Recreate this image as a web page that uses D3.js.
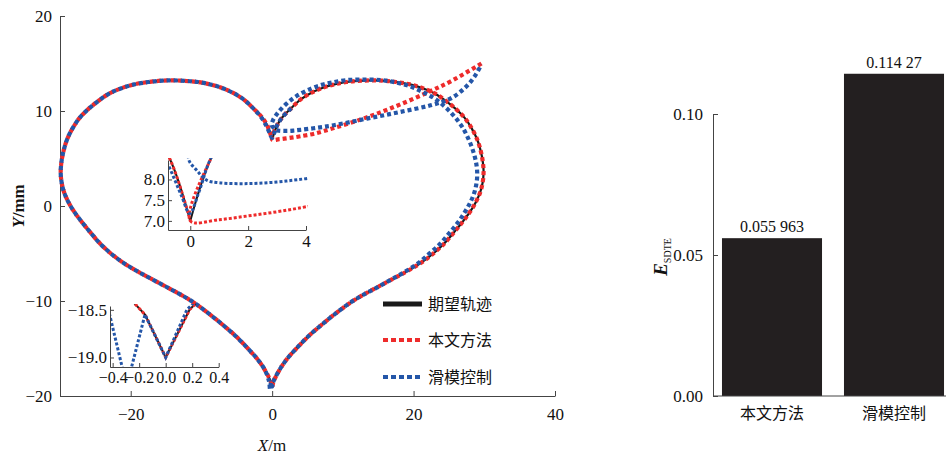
<!DOCTYPE html>
<html>
<head>
<meta charset="utf-8">
<script src="https://cdn.jsdelivr.net/npm/d3@7"></script>
<style>
  body { margin: 0; background: #fff; }
  text { font-family: "Liberation Serif", "Times New Roman", serif; fill: #111; }
</style>
</head>
<body>
<script>
// desired heart trajectory, clockwise from the top cusp
const desiredPath = [
    [0, 7], [0.69, 8.47], [1.5, 9.4], [2.7, 10.3], [4, 11.2], [5.5, 11.9], [7, 12.4], [8.5, 12.75],
    [10.5, 13.05], [13, 13.2], [15.5, 13.2], [17.5, 13.05], [19.5, 12.8], [21.3, 12.4], [23, 11.85],
    [24.5, 11.1], [26, 10.2], [27.2, 9.3], [28.2, 8.2], [29.0, 7.0], [29.5, 5.8], [29.8, 4.6],
    [29.9, 3.5], [29.75, 2.4], [29.4, 1.4], [28.8, 0.4], [28.0, -0.6], [27.0, -1.6], [25.8, -2.7],
    [24.4, -3.9], [22.8, -5.0], [21.0, -6.0], [19.0, -6.9], [17.0, -7.7], [15.0, -8.5], [13.0, -9.3],
    [11.0, -10.2], [9.0, -11.3], [7.0, -12.5], [5.0, -13.8], [3.3, -15.1], [2.0, -16.2], [1.0, -17.3],
    [0.18, -18.5], [0, -19],
    [-0.156, -18.55], [-1.0, -17.3], [-2.0, -16.2], [-3.3, -15.1], [-5.0, -13.8], [-7.0, -12.5],
    [-9.0, -11.3], [-11.0, -10.2], [-13.0, -9.3], [-15.0, -8.5], [-17.0, -7.7], [-19.0, -6.9],
    [-21.0, -6.0], [-22.8, -5.0], [-24.4, -3.9], [-25.8, -2.7], [-27.0, -1.6], [-28.0, -0.6],
    [-28.8, 0.4], [-29.4, 1.4], [-29.75, 2.4], [-29.9, 3.5], [-29.8, 4.6], [-29.5, 5.8], [-29.0, 7.0],
    [-28.2, 8.2], [-27.2, 9.3], [-26, 10.2], [-24.5, 11.1], [-23, 11.85], [-21.3, 12.4], [-19.5, 12.8],
    [-17.5, 13.05], [-15.5, 13.2], [-13, 13.2], [-10.5, 13.05], [-8.5, 12.75], [-7, 12.4], [-5.5, 11.9],
    [-4, 11.2], [-2.7, 10.3], [-1.5, 9.4], [-0.69, 8.47], [0, 7]
];

// 本文方法: approach from the start point, then the heart
const proposedApproach = [
    [29.6, 15.0], [25.2, 13.1], [22.4, 12.1], [19.1, 11.0], [15.8, 10.0], [12.5, 9.1], [8.7, 8.2],
    [6, 7.62], [4, 7.34], [3, 7.22], [2, 7.12], [1, 7.03]
];
const proposedPath = proposedApproach.concat(desiredPath);

// 滑模控制
const smcPath = [
    [29.6, 14.9], [28.6, 13.6], [27.2, 12.4], [25.2, 11.3], [22.4, 10.6], [18.1, 9.9], [13.4, 9.2],
    [8.7, 8.5], [6, 8.2], [4, 8.02], [3, 7.94], [2, 7.9], [1, 7.92], [0.58, 7.98], [0.25, 8.2],
    [-0.06, 8.5], [0.1, 9.0], [0.8, 9.8], [2.0, 10.75], [3.5, 11.6], [5.5, 12.35], [7, 12.75],
    [8.5, 13.0], [10.5, 13.25], [13, 13.3], [15.5, 13.25], [17.5, 13.0], [19.5, 12.6], [21.3, 12.0],
    [23, 11.3], [24.5, 10.4], [25.8, 9.4], [26.9, 8.3], [27.8, 7.0], [28.5, 5.6], [28.9, 4.3],
    [29.0, 3.2], [28.85, 2.2], [28.5, 1.2], [27.9, 0.2], [27.2, -0.7], [26.2, -1.8], [25.0, -2.9],
    [23.6, -4.1], [22.1, -5.1], [20.5, -6.1], [18.6, -7.0], [16.7, -7.8], [14.8, -8.6], [13.0, -9.3],
    [11.0, -10.2], [9.0, -11.3], [7.0, -12.5], [5.0, -13.8], [3.3, -15.1], [2.0, -16.2], [1.0, -17.3],
    [0.16, -18.5], [0, -19.0], [-0.156, -18.55], [-0.294, -19.3], [-0.44, -18.45], [-1.0, -17.3],
    [-2.0, -16.2], [-3.3, -15.1], [-5.0, -13.8], [-7.0, -12.5], [-9.0, -11.3], [-11.0, -10.2],
    [-13.0, -9.3], [-15.0, -8.5], [-17.0, -7.7], [-19.0, -6.9], [-21.0, -6.0], [-22.8, -5.0],
    [-24.4, -3.9], [-25.8, -2.7], [-27.0, -1.6], [-28.0, -0.6], [-28.8, 0.4], [-29.4, 1.4],
    [-29.75, 2.4], [-29.9, 3.5], [-29.8, 4.6], [-29.5, 5.8], [-29.0, 7.0], [-28.2, 8.2], [-27.2, 9.3],
    [-26, 10.2], [-24.5, 11.1], [-23, 11.85], [-21.3, 12.4], [-19.5, 12.8], [-17.5, 13.05], [-15.5, 13.2],
    [-13, 13.2], [-10.5, 13.05], [-8.5, 12.75], [-7, 12.4], [-5.5, 11.9], [-4, 11.2], [-2.7, 10.3],
    [-1.5, 9.3], [-0.79, 8.39], [-0.3, 7.6], [-0.02, 7.18], [0.3, 7.7], [0.7, 8.5], [1.5, 9.4], [2.7, 10.3]
];

const seriesNames = ["期望轨迹", "本文方法", "滑模控制"];
const mainXTicks = [-20, 0, 20, 40];
const mainYTicks = [-20, -10, 0, 10, 20];
const topInsetXTicks = [0, 2, 4];
const topInsetYTicks = [7.0, 7.5, 8.0];
const botInsetXTicks = [-0.4, -0.2, 0.0, 0.2, 0.4];
const botInsetYTicks = [-19.0, -18.5];

// bar chart
const categories = ["本文方法", "滑模控制"];
const esdteValues = [0.055963, 0.11427];
const esdteLabels = ["0.055 963", "0.114 27"];
const barYTicks = [0, 0.05, 0.10];

const RED = "#ee2b2b", BLUE = "#2456a8", BLACK = "#1a1a1a", AXIS = "#444";

const svg = d3.select("body").append("svg")
    .attr("width", 951)
    .attr("height", 454);

function styleAxis(g, size) {
    g.select(".domain").attr("stroke", AXIS).attr("stroke-width", 1);
    g.selectAll(".tick line").attr("stroke", AXIS);
    g.selectAll(".tick text").attr("font-size", size).attr("fill", "#111")
        .style("font-family", "'Liberation Serif', serif");
}

function drawSeries(g, line, w, dash, offset) {
    g.append("path").datum(desiredPath)
        .attr("d", line).attr("fill", "none")
        .attr("stroke", BLACK).attr("stroke-width", w.black);
    g.append("path").datum(proposedPath)
        .attr("d", line).attr("fill", "none")
        .attr("stroke", RED).attr("stroke-width", w.dot)
        .attr("stroke-dasharray", dash);
    g.append("path").datum(smcPath)
        .attr("d", line).attr("fill", "none")
        .attr("stroke", BLUE).attr("stroke-width", w.dot)
        .attr("stroke-dasharray", dash)
        .attr("stroke-dashoffset", offset);
}

// ---------- left panel ----------
const x = d3.scaleLinear().domain([-30, 40]).range([60, 555]);
const y = d3.scaleLinear().domain([-20, 20]).range([396, 16]);

svg.append("g")
    .attr("transform", "translate(0,396)")
    .call(d3.axisBottom(x).tickValues(mainXTicks).tickSizeInner(-5).tickSizeOuter(0).tickPadding(12))
    .call(g => styleAxis(g, 17));
svg.append("g")
    .attr("transform", "translate(60,0)")
    .call(d3.axisLeft(y).tickValues(mainYTicks).tickSizeInner(-5).tickSizeOuter(0).tickPadding(8))
    .call(g => styleAxis(g, 17));

const mainLine = d3.line()
    .x(d => x(d[0])).y(d => y(d[1]))
    .curve(d3.curveCatmullRom.alpha(0.5));
drawSeries(svg.append("g"), mainLine, { black: 2.2, dot: 4.2 }, "4,3", 3.5);

// axis titles
svg.append("text")
    .attr("transform", "translate(24,206) rotate(-90)")
    .attr("text-anchor", "middle")
    .attr("font-size", 17).attr("font-weight", "bold")
    .call(t => {
        t.append("tspan").attr("font-style", "italic").text("Y");
        t.append("tspan").text("/mm");
    });
svg.append("text")
    .attr("x", 272).attr("y", 451)
    .attr("text-anchor", "middle")
    .attr("font-size", 17)
    .call(t => {
        t.append("tspan").attr("font-style", "italic").text("X");
        t.append("tspan").text("/m");
    });

// ---------- top inset ----------
const tx = d3.scaleLinear().domain([-0.77, 4]).range([168, 306]);
const ty = d3.scaleLinear().domain([6.78, 8.47]).range([230, 160]);
svg.append("clipPath").attr("id", "clipTop").append("rect")
    .attr("x", 168).attr("y", 158).attr("width", 140).attr("height", 72);
const topG = svg.append("g").attr("clip-path", "url(#clipTop)");
const topLine = d3.line()
    .x(d => tx(d[0])).y(d => ty(d[1]))
    .curve(d3.curveCatmullRom.alpha(0.5));
drawSeries(topG, topLine, { black: 2, dot: 3 }, "3,2", 2.5);
svg.append("g")
    .attr("transform", "translate(0,230)")
    .call(d3.axisBottom(tx).tickValues(topInsetXTicks).tickFormat(d3.format("d"))
        .tickSizeInner(-4).tickSizeOuter(0).tickPadding(5))
    .call(g => styleAxis(g, 17));
svg.append("g")
    .attr("transform", "translate(168,0)")
    .call(d3.axisLeft(ty).tickValues(topInsetYTicks).tickFormat(d3.format(".1f"))
        .tickSizeInner(-4).tickSizeOuter(0).tickPadding(3))
    .call(g => styleAxis(g, 17));

// ---------- bottom inset ----------
const bx = d3.scaleLinear().domain([-0.42, 0.4]).range([110, 218.7]);
const by = d3.scaleLinear().domain([-19.10, -18.46]).range([367, 306]);
svg.append("clipPath").attr("id", "clipBot").append("rect")
    .attr("x", 110).attr("y", 304).attr("width", 110).attr("height", 63);
const botG = svg.append("g").attr("clip-path", "url(#clipBot)");
const botLine = d3.line()
    .x(d => bx(d[0])).y(d => by(d[1]))
    .curve(d3.curveLinear);
drawSeries(botG, botLine, { black: 2, dot: 3 }, "3,2", 2.5);
svg.append("g")
    .attr("transform", "translate(0,367)")
    .call(d3.axisBottom(bx).tickValues(botInsetXTicks).tickFormat(d3.format(".1f"))
        .tickSizeInner(-4).tickSizeOuter(0).tickPadding(5))
    .call(g => styleAxis(g, 16));
svg.append("g")
    .attr("transform", "translate(110,0)")
    .call(d3.axisLeft(by).tickValues(botInsetYTicks).tickFormat(d3.format(".1f"))
        .tickSizeInner(-4).tickSizeOuter(0).tickPadding(3))
    .call(g => styleAxis(g, 17));

// ---------- legend ----------
const legendStyles = [
    { color: BLACK, dash: null, w: 5 },
    { color: RED, dash: "5,3", w: 4 },
    { color: BLUE, dash: "5,3", w: 4 }
];
const legend = svg.append("g")
    .selectAll("g")
    .data(seriesNames)
    .enter().append("g")
    .attr("transform", (d, i) => "translate(383," + [304, 340, 377][i] + ")");
legend.append("line")
    .attr("x1", 0).attr("x2", 39)
    .attr("stroke", (d, i) => legendStyles[i].color)
    .attr("stroke-width", (d, i) => legendStyles[i].w)
    .attr("stroke-dasharray", (d, i) => legendStyles[i].dash);
legend.append("text")
    .attr("x", 45).attr("dy", "0.36em")
    .attr("font-size", 16)
    .style("font-family", "'Noto Sans CJK SC', sans-serif")
    .text(d => d);

// ---------- right panel: bars ----------
const xb = d3.scaleBand().domain(categories).range([711, 955]).paddingInner(0.18).paddingOuter(0.09);
const yb = d3.scaleLinear().domain([0, 0.1]).range([396, 114]);

svg.append("g").selectAll("rect")
    .data(esdteValues)
    .enter().append("rect")
    .attr("x", (d, i) => xb(categories[i]))
    .attr("y", d => yb(d))
    .attr("width", xb.bandwidth())
    .attr("height", d => yb(0) - yb(d))
    .attr("fill", "#231f20");

svg.append("g").selectAll("text")
    .data(esdteValues)
    .enter().append("text")
    .attr("x", (d, i) => xb(categories[i]) + xb.bandwidth() / 2)
    .attr("y", d => yb(d) - 6)
    .attr("text-anchor", "middle")
    .attr("font-size", 16)
    .text((d, i) => esdteLabels[i]);

svg.append("g")
    .attr("transform", "translate(713,0)")
    .call(d3.axisLeft(yb).tickValues(barYTicks).tickFormat(d3.format(".2f"))
        .tickSizeInner(-5).tickSizeOuter(0).tickPadding(10))
    .call(g => styleAxis(g, 17));

svg.append("line")
    .attr("x1", 713).attr("x2", 946)
    .attr("y1", 396).attr("y2", 396)
    .attr("stroke", AXIS);

svg.append("g")
    .attr("transform", "translate(0,396)")
    .call(d3.axisBottom(xb).tickSize(0).tickPadding(12))
    .call(g => g.select(".domain").remove())
    .call(g => g.selectAll("text").attr("font-size", 16)
        .style("font-family", "'Noto Sans CJK SC', sans-serif"));

svg.append("text")
    .attr("transform", "translate(667,257) rotate(-90)")
    .attr("text-anchor", "middle")
    .call(t => {
        t.append("tspan").attr("font-size", 19).attr("font-weight", "bold")
            .attr("font-style", "italic").text("E");
        t.append("tspan").attr("font-size", 10).attr("dy", 4).text("SDTE");
    });
</script>
</body>
</html>
